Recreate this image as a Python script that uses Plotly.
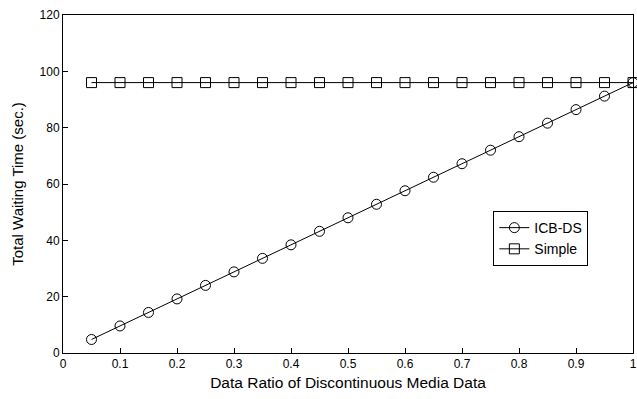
import plotly.graph_objects as go

# Data ratio of discontinuous media data
ratio = [0.05, 0.10, 0.15, 0.20, 0.25, 0.30, 0.35, 0.40, 0.45, 0.50,
         0.55, 0.60, 0.65, 0.70, 0.75, 0.80, 0.85, 0.90, 0.95, 1.00]
# Total waiting time (sec.)
icb_ds = [4.8, 9.6, 14.4, 19.2, 24.0, 28.8, 33.6, 38.4, 43.2, 48.0,
          52.8, 57.6, 62.4, 67.2, 72.0, 76.8, 81.6, 86.4, 91.2, 96.0]
simple = [96.0] * 20

x_ticks = [0, 0.1, 0.2, 0.3, 0.4, 0.5, 0.6, 0.7, 0.8, 0.9, 1]
x_tick_text = ["0", "0.1", "0.2", "0.3", "0.4", "0.5", "0.6", "0.7", "0.8", "0.9", "1"]
y_ticks = [0, 20, 40, 60, 80, 100, 120]

FONT = "Liberation Sans, Arial, sans-serif"

fig = go.Figure()
fig.add_trace(go.Scatter(
    x=ratio, y=icb_ds, name="ICB-DS", mode="lines+markers",
    line=dict(color="black", width=1),
    marker=dict(symbol="circle-open", size=10, color="black", line=dict(width=1)),
    cliponaxis=False,
))
fig.add_trace(go.Scatter(
    x=ratio, y=simple, name="Simple", mode="lines+markers",
    line=dict(color="black", width=1),
    marker=dict(symbol="square-open", size=10, color="black", line=dict(width=1)),
    cliponaxis=False,
))

fig.update_layout(
    width=637, height=399,
    margin=dict(l=63, r=4, t=15, b=46),
    paper_bgcolor="white", plot_bgcolor="white",
    font=dict(family=FONT, color="black", size=12),
    showlegend=True,
    legend=dict(
        x=0.755, y=0.42, xanchor="left", yanchor="top",
        bgcolor="white", bordercolor="black", borderwidth=1,
        font=dict(family=FONT, size=14, color="black"),
        itemwidth=30, tracegroupgap=2,
    ),
    xaxis=dict(
        range=[0, 1], tickvals=x_ticks, ticktext=x_tick_text,
        ticks="inside", ticklen=5, tickcolor="black",
        ticklabeloverflow="allow", automargin=False,
        showline=True, linecolor="black", linewidth=1, mirror=True,
        showgrid=False, zeroline=False,
        tickfont=dict(family=FONT, size=12),
        title=dict(text="Data Ratio of Discontinuous Media Data",
                   font=dict(family=FONT, size=15.5), standoff=6),
    ),
    yaxis=dict(
        range=[0, 120], tickvals=y_ticks,
        ticks="inside", ticklen=5, tickcolor="black",
        automargin=False,
        showline=True, linecolor="black", linewidth=1, mirror=True,
        showgrid=False, zeroline=False,
        tickfont=dict(family=FONT, size=12),
        title=dict(text="Total Waiting Time (sec.)",
                   font=dict(family=FONT, size=15), standoff=12),
    ),
)

fig.write_html("out.html")
